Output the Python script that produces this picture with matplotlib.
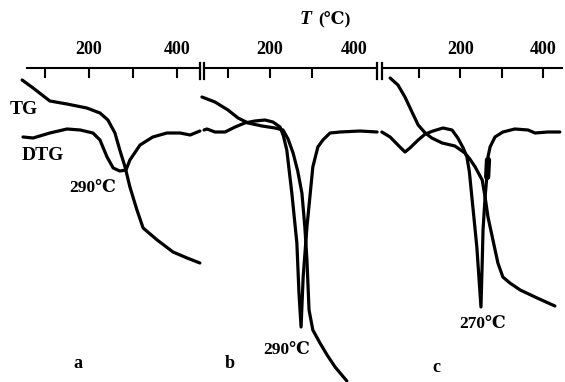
import matplotlib.pyplot as plt

plt.rcParams['font.family'] = ['Liberation Serif', 'DejaVu Serif']
plt.rcParams['font.weight'] = 'bold'

# ---- data (temperature in degC, signal in arbitrary units) ----
# panel a
a_tg_T = [48, 73, 111, 150, 195, 225, 243, 259, 270, 282, 293, 309, 323, 355, 391, 423, 452]
a_tg_y = [302, 294, 281, 278, 274, 269, 262, 249, 232, 215, 195, 172, 154, 142, 130, 124, 119]
a_dtg_T = [50, 73, 111, 150, 180, 209, 225, 241, 255, 270, 284, 293, 316, 345, 377, 407, 430, 452]
a_dtg_y = [245, 244, 249, 253, 252, 249, 242, 225, 214, 211, 212, 222, 237, 245, 249, 249, 247, 251]

# panel b
b_tg_T = [38, 69, 100, 124, 148, 181, 212, 231, 243, 255, 266, 276, 283, 288, 293, 302, 319, 336,
          355, 383]
b_tg_y = [285, 280, 272, 264, 259, 256, 254, 252, 243, 229, 211, 189, 155, 122, 72, 52, 39, 27,
          15, 1]
b_dtg_T = [43, 50, 69, 93, 117, 140, 164, 188, 207, 224, 232, 240, 252, 264, 269, 274, 279, 288, 295,
           302, 314, 326, 343, 367, 414, 455]
b_dtg_y = [252, 253, 250, 250, 255, 259, 261, 262, 260, 255, 246, 232, 189, 139, 89, 55, 105, 155, 185,
           215, 235, 242, 249, 250, 251, 250]

# panel c
c_tg_T = [30, 49, 66, 83, 98, 115, 131, 156, 187, 211, 223, 236, 253, 260, 267, 279, 291, 303,
          320, 345, 386, 429]
c_tg_y = [304, 297, 285, 270, 257, 249, 244, 239, 236, 229, 223, 215, 202, 185, 165, 142, 119, 105,
          99, 92, 84, 76]
c_dtg_T = [10, 30, 49, 66, 78, 98, 115, 134, 158, 180, 194, 207, 216, 222, 228, 240, 250, 253, 255, 260,
           265, 267, 272, 284, 303, 332, 364, 381, 412, 441]
c_dtg_y = [250, 245, 237, 230, 234, 242, 248, 251, 254, 252, 244, 234, 225, 210, 185, 135, 75, 119, 152,
           185, 209, 225, 235, 245, 250, 253, 252, 249, 250, 250]
c_blob_T = [265, 267]
c_blob_y = [205, 222]

peak_labels = ['290\u2103', '290\u2103', '270\u2103']
peak_T = [209, 240, 255]
peak_y = [194, 32, 58]
panel_names = ['a', 'b', 'c']
name_T = [175, 105, 141]
name_y = [19, 19, 15]

# ---- layout (pixels of the 565x382 figure) ----
W, H = 565, 382
top_px = 68
panel_px = [(27, 200), (204, 377), (382, 562)]
panel_xlim = [(59.1, 452.3), (42.9, 454.8), (10.4, 446.2)]
panel_ticks = [[100, 200, 300, 400], [100, 200, 300], [100, 200, 300, 400]]

fig = plt.figure(figsize=(W / 100, H / 100), dpi=100)

axes = []
for (l, r), xl, ticks in zip(panel_px, panel_xlim, panel_ticks):
    ax = fig.add_axes([l / W, 0, (r - l) / W, 1 - top_px / H])
    ax.set_xlim(*xl)
    ax.set_ylim(0, H - top_px)
    ax.patch.set_visible(False)
    for s in ['left', 'right', 'bottom']:
        ax.spines[s].set_visible(False)
    ax.spines['top'].set_linewidth(1.5)
    ax.xaxis.tick_top()
    ax.set_yticks([])
    ax.set_xticks(ticks, labels=[str(t) if t in (200, 400) else '' for t in ticks])
    ax.tick_params(axis='x', which='major', direction='in', length=7, width=1.5,
                   pad=7, labelsize=13)
    axes.append(ax)

# panel b has a 400 label but no tick mark
axes[1].set_xticks([400], labels=['400'], minor=True)
axes[1].tick_params(axis='x', which='minor', length=0, pad=7, labelsize=13)

lw = 2.3
kw = dict(color='black', lw=lw, solid_capstyle='round', solid_joinstyle='round', clip_on=False)
axes[0].plot(a_tg_T, a_tg_y, **kw)
axes[0].plot(a_dtg_T, a_dtg_y, **kw)
axes[1].plot(b_tg_T, b_tg_y, **kw)
axes[1].plot(b_dtg_T, b_dtg_y, **kw)
axes[2].plot(c_tg_T, c_tg_y, **kw)
axes[2].plot(c_dtg_T, c_dtg_y, **kw)
axes[2].plot(c_blob_T, c_blob_y, color='black', lw=4.5, solid_capstyle='round', clip_on=False)

for ax, lab, t, y in zip(axes, peak_labels, peak_T, peak_y):
    ax.text(t, y, lab, ha='center', va='center', fontsize=12.5, fontweight='bold')
for ax, lab, t, y in zip(axes, panel_names, name_T, name_y):
    ax.text(t, y, lab, ha='center', va='center', fontsize=13, fontweight='bold')

axes[0].text(52, 272, 'TG', ha='center', va='center', fontsize=14, fontweight='bold')
axes[0].text(95, 227, 'DTG', ha='center', va='center', fontsize=14, fontweight='bold')

# axis break marks
brk = dict(color='black', lw=1.6, clip_on=False)
for ax, xs in [(axes[0], 1.0), (axes[1], 0.0), (axes[1], 1.0), (axes[2], 0.0)]:
    ax.plot([xs, xs], [0.965, 1.015], transform=ax.transAxes, **brk)

fig.text(306 / W, 1 - 19 / H, 'T', ha='center', va='center', fontsize=14,
         fontstyle='italic', fontweight='bold')
fig.text(334 / W, 1 - 19 / H, '(\u2103)', ha='center', va='center', fontsize=12.5,
         fontweight='bold')

fig.savefig('out.png', dpi=100)
